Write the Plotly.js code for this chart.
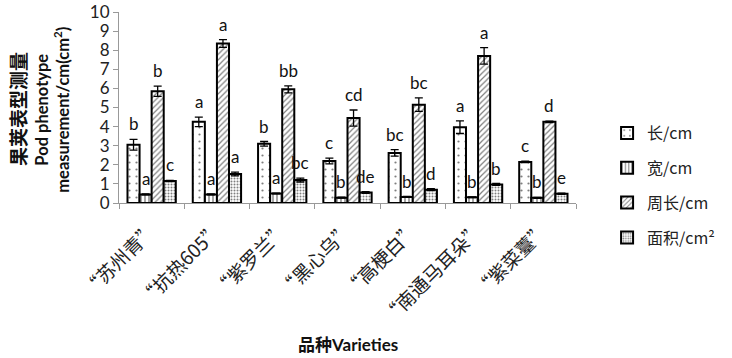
<!DOCTYPE html>
<html>
<head>
<meta charset="utf-8">
<script src="https://cdn.plot.ly/plotly-3.0.1.min.js"></script>
<style>html,body{margin:0;padding:0;background:#fff;}#chart{width:732px;height:358px;}</style>
</head>
<body>
<div id="chart"></div>
<script>
const categories = ['“苏州青”','“抗热605”','“紫罗兰”','“黑心乌”','“高梗白”','“南通马耳朵”','“紫菜薹”'];
const seriesNames = ['长/cm','宽/cm','周长/cm','面积/cm²'];
const lengthVals = [3.05, 4.25, 3.10, 2.20, 2.62, 3.97, 2.15];
const lengthErr  = [0.28, 0.25, 0.12, 0.15, 0.17, 0.33, 0.04];
const widthVals  = [0.45, 0.45, 0.50, 0.28, 0.32, 0.30, 0.27];
const widthErr   = [0.02, 0.02, 0.02, 0.02, 0.02, 0.02, 0.02];
const perimVals  = [5.85, 8.35, 5.95, 4.45, 5.15, 7.70, 4.25];
const perimErr   = [0.27, 0.20, 0.18, 0.42, 0.35, 0.43, 0.04];
const areaVals   = [1.15, 1.52, 1.20, 0.55, 0.70, 0.97, 0.48];
const areaErr    = [0.03, 0.10, 0.10, 0.05, 0.05, 0.05, 0.03];
const lengthLabels = ['b','a','b','c','bc','a','c'];
const widthLabels  = ['a','a','a','b','b','b','b'];
const perimLabels  = ['b','a','bb','cd','bc','a','d'];
const areaLabels   = ['c','a','bc','de','d','b','e'];
const yTitleLines = ['果荚表型测量', 'Pod phenotype', 'measurement/cm(cm<sup>2</sup>)'];
const xTitle = '品种Varieties';

const values = [lengthVals, widthVals, perimVals, areaVals];
const errors = [lengthErr, widthErr, perimErr, areaErr];
const labels = [lengthLabels, widthLabels, perimLabels, areaLabels];
const patterns = [
  {shape: '.', size: 7, solidity: 0.08},
  {shape: '|', size: 4, solidity: 0.35},
  {shape: '/', size: 4, solidity: 0.3},
  {shape: '.', size: 3, solidity: 0.35}
];
const bargap = 0.26;

const traces = values.map((v, i) => ({
  type: 'bar',
  name: seriesNames[i],
  legendgroup: 'g' + i,
  x: categories,
  y: v,
  marker: {
    color: 'white',
    line: {color: 'black', width: 2},
    pattern: Object.assign({fgcolor: 'black', bgcolor: 'white', fillmode: 'overlay'}, patterns[i])
  },
  error_y: {type: 'data', array: errors[i], visible: true, color: 'black', thickness: 1.3, width: 4}
}));

const barW = (1 - bargap) / 4;
const annotations = [];
labels.forEach((lab, i) => {
  lab.forEach((t, c) => {
    annotations.push({
      x: c + (i - 1.5) * barW, y: values[i][c] + errors[i][c],
      xref: 'x', yref: 'y', text: t, showarrow: false,
      yanchor: 'bottom', yshift: 3,
      font: {family: 'Lato, sans-serif', size: 17, color: '#111'}
    });
  });
});
annotations.push({
  xref: 'paper', yref: 'paper', x: 0.5, y: -0.74, yanchor: 'middle',
  text: '<b>' + xTitle + '</b>', showarrow: false,
  font: {family: 'Lato, "Noto Sans CJK SC", sans-serif', size: 17, color: '#111'}
});
const yTitleX = [-0.222, -0.168, -0.124];
const yTitleFonts = [
  {family: '"Noto Sans CJK SC", sans-serif', size: 19, color: '#111'},
  {family: 'Lato, sans-serif', size: 16.5, color: '#111'},
  {family: 'Lato, sans-serif', size: 16.5, color: '#111'}
];
yTitleLines.forEach((t, k) => {
  annotations.push({
    xref: 'paper', yref: 'paper', x: yTitleX[k], y: 0.49, xanchor: 'center', yanchor: 'middle',
    textangle: -90, showarrow: false, text: '<b>' + t + '</b>', font: yTitleFonts[k]
  });
});

const layout = {
  width: 732, height: 358,
  margin: {l: 119, r: 125, t: 12, b: 155, pad: 0},
  paper_bgcolor: 'white', plot_bgcolor: 'white',
  barmode: 'group', bargap: bargap, bargroupgap: 0,
  showlegend: true,
  legend: {
    x: 1.068, xanchor: 'left', y: 0.455, yanchor: 'top',
    font: {family: '"Noto Sans CJK SC", Lato, sans-serif', size: 16, color: '#222'},
    tracegroupgap: 11, itemwidth: 30, traceorder: 'grouped'
  },
  xaxis: {
    type: 'category',
    showline: true, linecolor: '#999', linewidth: 1,
    ticks: 'outside', tickson: 'boundaries', ticklen: 5, tickcolor: '#999',
    tickangle: -45, ticklabelstandoff: 7,
    tickfont: {family: '"Noto Sans CJK SC", serif', size: 19, color: '#222'},
    showgrid: false, zeroline: false
  },
  yaxis: {
    range: [0, 10], dtick: 1,
    showline: true, linecolor: '#999', linewidth: 1,
    ticks: 'outside', ticklen: 5, tickcolor: '#999',
    tickfont: {family: 'Lato, sans-serif', size: 17, color: '#222'},
    showgrid: false, zeroline: false
  },
  annotations: annotations
};

Plotly.newPlot('chart', traces, layout, {staticPlot: true});
</script>
</body>
</html>
